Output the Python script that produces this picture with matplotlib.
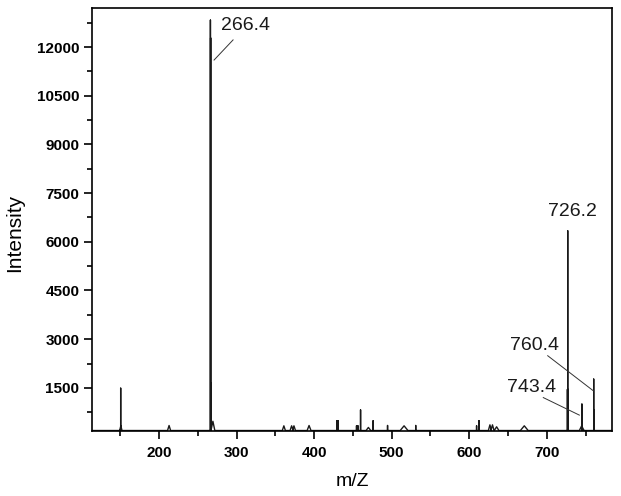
import numpy as np
from matplotlib import pyplot as plt
from matplotlib.ticker import MultipleLocator

plt.rcParams['font.family'] = ['Liberation Sans', 'DejaVu Sans']

# baseline of the spectrum (sits on the bottom axis)
BASE = 185

# sharp peaks: m/z and intensity
stick_mz = [150.6, 266.3, 266.6, 266.9, 429.2, 430.8, 454.7, 456.5, 459.9,
            476.2, 494.7, 531.0, 609.5, 612.5, 726.6, 727.0, 727.4, 745.3,
            745.8, 760.5, 760.9]
stick_int = [1490, 12830, 12280, 1650, 490, 490, 330, 330, 820,
             490, 340, 340, 330, 490, 1450, 6340, 1450, 1000,
             640, 1770, 820]

# small broad humps: m/z, intensity, width
hump_mz = [150.8, 213.0, 269.5, 361.0, 371.0, 374.0, 393.5, 470.0, 516.0,
           626.7, 630.0, 635.3, 671.0, 745.0]
hump_int = [330, 340, 470, 330, 330, 330, 340, 280, 330,
            360, 360, 300, 330, 330]
hump_w = [3, 4, 5, 4, 4, 4, 5, 6, 10, 4, 4, 6, 10, 6]

# labelled peaks
label_text = ['266.4', '726.2', '760.4', '743.4']
label_pos = [(280.5, 12650), (733.5, 6930), (652.5, 2800), (648.3, 1510)]
label_ha = ['left', 'center', 'left', 'left']
leader_from = [(295.5, 12220), None, (701.2, 2490), (695.5, 1200)]
leader_to = [(271.0, 11600), None, (760.0, 1410), (742.0, 660)]


# build one profile line out of the sticks and humps
def build_profile():
    pieces = []
    for m, h in zip(stick_mz, stick_int):
        pieces.append((m, [m, m, m], [BASE, h, BASE]))
    for m, h, w in zip(hump_mz, hump_int, hump_w):
        pieces.append((m, [m - w / 2, m, m + w / 2], [BASE, h, BASE]))
    pieces.sort(key=lambda p: p[0])
    xs = [110]
    ys = [BASE]
    for _, px, py in pieces:
        xs += px
        ys += py
    xs.append(790)
    ys.append(BASE)
    return np.array(xs), np.array(ys)


fig = plt.figure(figsize=(6.21, 4.96), dpi=100)
ax = fig.add_axes([0.148, 0.132, 0.838, 0.851])

x, y = build_profile()
ax.plot(x, y, color='#1a1a1a', linewidth=1.0)

ax.set_xlim(113.5, 784.5)
ax.set_ylim(BASE, 13190)

ax.xaxis.set_major_locator(MultipleLocator(100))
ax.xaxis.set_minor_locator(MultipleLocator(50))
ax.yaxis.set_major_locator(MultipleLocator(1500))
ax.yaxis.set_minor_locator(MultipleLocator(750))
ax.set_yticks(np.arange(1500, 12001, 1500))

ax.tick_params(which='major', direction='out', length=6, width=1.2,
               labelsize=11)
ax.tick_params(axis='x', which='major', pad=5)
ax.tick_params(axis='y', which='major', pad=3)
ax.tick_params(which='minor', direction='out', length=3.5, width=1.2)
ax.tick_params(top=False, right=False)
for lab in ax.get_xticklabels() + ax.get_yticklabels():
    lab.set_fontweight('bold')
for s in ax.spines.values():
    s.set_linewidth(1.2)

ax.set_xlabel('m/Z', fontsize=14)
ax.set_ylabel('Intensity', fontsize=15)
ax.xaxis.set_label_coords(0.5, -0.1)
ax.yaxis.set_label_coords(-0.13, 0.468)

for i in range(len(label_text)):
    ax.text(label_pos[i][0], label_pos[i][1], label_text[i], fontsize=14,
            ha=label_ha[i], va='center', color='#1a1a1a')
    if leader_from[i] is not None:
        ax.plot([leader_from[i][0], leader_to[i][0]],
                [leader_from[i][1], leader_to[i][1]],
                color='#333333', linewidth=0.7)

fig.savefig('out.png', dpi=100)
